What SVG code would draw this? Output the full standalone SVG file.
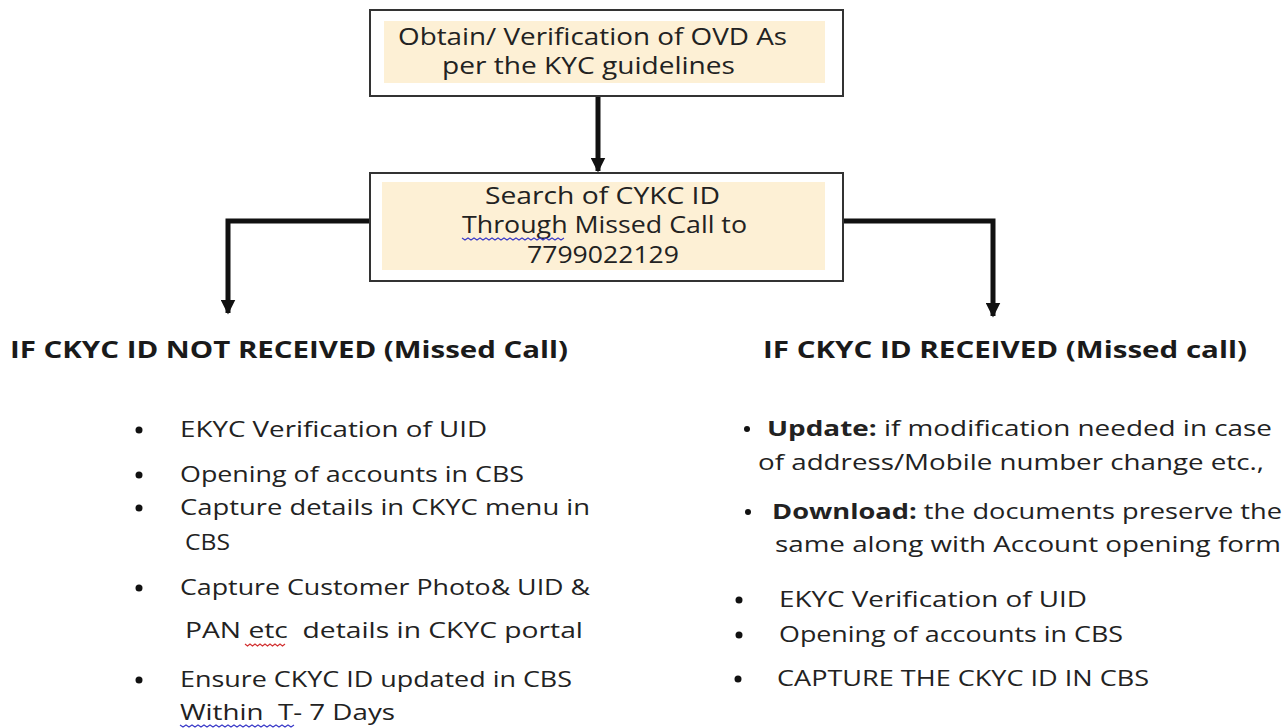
<svg xmlns="http://www.w3.org/2000/svg" width="1287" height="728" viewBox="0 0 1287 728">
  <defs>
    <marker id="arrow" viewBox="0 0 10 10" refX="9" refY="5" markerWidth="3" markerHeight="3" orient="auto" markerUnits="strokeWidth">
      <path d="M0,0 L10,5 L0,10 z" fill="#111"/>
    </marker>
    <style>
      .frame { fill: #ffffff; stroke: #333; stroke-width: 2; }
      .band { fill: #fdf0d5; }
      .box-text { font-family: "Open Sans", "Liberation Sans", sans-serif; font-size: 23px; fill: #222; }
      .head { font-family: "Open Sans", "Liberation Sans", sans-serif; font-size: 23px; font-weight: bold; fill: #1a1a1a; }
      .item { font-family: "Open Sans", "Liberation Sans", sans-serif; font-size: 22px; fill: #222; white-space: pre; }
      .b { font-weight: bold; }
      .dot { fill: #111; }
      .link { fill: none; stroke: #111; stroke-width: 5; marker-end: url(#arrow); }
      .squiggle-blue { fill: none; stroke: #3a3ac8; stroke-width: 1.2; }
      .squiggle-red { fill: none; stroke: #d23030; stroke-width: 1.2; }
    </style>
  </defs>

  <rect width="1287" height="728" fill="#ffffff"/>

  <!-- connectors -->
  <g id="connectors">
    <path class="link" d="M598,97 L598,171"/>
    <path class="link" d="M370,221 L228,221 L228,313"/>
    <path class="link" d="M843,221 L993,221 L993,316"/>
  </g>

  <!-- start step -->
  <g id="node-obtain">
    <rect class="frame" x="370" y="10" width="473" height="86"/>
    <rect class="band" x="384" y="21" width="441" height="62"/>
    <text class="box-text" x="398" y="45" textLength="389" lengthAdjust="spacingAndGlyphs">Obtain/ Verification of OVD As</text>
    <text class="box-text" x="442" y="74" textLength="293" lengthAdjust="spacingAndGlyphs">per the KYC guidelines</text>
  </g>

  <!-- search step -->
  <g id="node-search">
    <rect class="frame" x="370" y="173" width="473" height="108"/>
    <rect class="band" x="382" y="182" width="443" height="88"/>
    <text class="box-text" x="485" y="204" textLength="235" lengthAdjust="spacingAndGlyphs">Search of CYKC ID</text>
    <text class="box-text" x="462" y="233" textLength="285" lengthAdjust="spacingAndGlyphs">Through Missed Call to</text>
    <text class="box-text" x="527" y="263" textLength="152" lengthAdjust="spacingAndGlyphs">7799022129</text>
    <path class="squiggle-blue" d="M462,238 l3,2 l3,-2 l3,2 l3,-2 l3,2 l3,-2 l3,2 l3,-2 l3,2 l3,-2 l3,2 l3,-2 l3,2 l3,-2 l3,2 l3,-2 l3,2 l3,-2 l3,2 l3,-2 l3,2 l3,-2 l3,2 l3,-2 l3,2 l3,-2 l3,2 l3,-2 l3,2 l3,-2 l3,2 l3,-2 l3,2 l3,-2"/>
  </g>

  <!-- branch: id not received -->
  <g id="node-not-received">
    <text class="head" x="10" y="358" textLength="558" lengthAdjust="spacingAndGlyphs">IF CKYC ID NOT RECEIVED (Missed Call)</text>
    <circle class="dot" cx="139" cy="430" r="3.5"/>
    <text class="item" x="180" y="437" textLength="307" lengthAdjust="spacingAndGlyphs">EKYC Verification of UID</text>
    <circle class="dot" cx="139" cy="475" r="3.5"/>
    <text class="item" x="180" y="482" textLength="344" lengthAdjust="spacingAndGlyphs">Opening of accounts in CBS</text>
    <circle class="dot" cx="139" cy="508" r="3.5"/>
    <text class="item" x="180" y="515" textLength="410" lengthAdjust="spacingAndGlyphs">Capture details in CKYC menu in</text>
    <text class="item" x="185" y="550" textLength="45" lengthAdjust="spacingAndGlyphs">CBS</text>
    <circle class="dot" cx="139" cy="588" r="3.5"/>
    <text class="item" x="180" y="595" textLength="410" lengthAdjust="spacingAndGlyphs">Capture Customer Photo&amp; UID &amp;</text>
    <text class="item" x="185" y="638" textLength="398" lengthAdjust="spacingAndGlyphs">PAN etc  details in CKYC portal</text>
    <path class="squiggle-red" d="M245,644 l2.5,2 l2.5,-2 l2.5,2 l2.5,-2 l2.5,2 l2.5,-2 l2.5,2 l2.5,-2 l2.5,2 l2.5,-2 l2.5,2 l2.5,-2 l2.5,2 l2.5,-2 l2.5,2 l2.5,-2"/>
    <circle class="dot" cx="139" cy="680" r="3.5"/>
    <text class="item" x="180" y="687" textLength="392" lengthAdjust="spacingAndGlyphs">Ensure CKYC ID updated in CBS</text>
    <text class="item" x="180" y="720" textLength="215" lengthAdjust="spacingAndGlyphs">Within  T- 7 Days</text>
    <path class="squiggle-blue" d="M180,725 l3,2 l3,-2 l3,2 l3,-2 l3,2 l3,-2 l3,2 l3,-2 l3,2 l3,-2 l3,2 l3,-2 l3,2 l3,-2 l3,2 l3,-2 l3,2 l3,-2 l3,2 l3,-2 l3,2 l3,-2 l3,2 l3,-2 l3,2 l3,-2 l3,2 l3,-2 l3,2 l3,-2 l3,2 l3,-2 l3,2 l3,-2 l3,2 l3,-2 l3,2 l3,-2"/>
  </g>

  <!-- branch: id received -->
  <g id="node-received">
    <text class="head" x="763" y="358" textLength="484" lengthAdjust="spacingAndGlyphs">IF CKYC ID RECEIVED (Missed call)</text>
    <circle class="dot" cx="747" cy="429" r="3"/>
    <text class="item" x="767" y="436" textLength="505" lengthAdjust="spacingAndGlyphs"><tspan class="b">Update:</tspan> if modification needed in case</text>
    <text class="item" x="758" y="470" textLength="506" lengthAdjust="spacingAndGlyphs">of address/Mobile number change etc.,</text>
    <circle class="dot" cx="748" cy="512" r="3"/>
    <text class="item" x="772" y="519" textLength="510" lengthAdjust="spacingAndGlyphs"><tspan class="b">Download:</tspan> the documents preserve the</text>
    <text class="item" x="775" y="552" textLength="506" lengthAdjust="spacingAndGlyphs">same along with Account opening form</text>
    <circle class="dot" cx="739" cy="600" r="3.5"/>
    <text class="item" x="779" y="607" textLength="308" lengthAdjust="spacingAndGlyphs">EKYC Verification of UID</text>
    <circle class="dot" cx="739" cy="635" r="3.5"/>
    <text class="item" x="779" y="642" textLength="344" lengthAdjust="spacingAndGlyphs">Opening of accounts in CBS</text>
    <circle class="dot" cx="738" cy="679" r="3.5"/>
    <text class="item" x="777" y="686" textLength="372" lengthAdjust="spacingAndGlyphs">CAPTURE THE CKYC ID IN CBS</text>
  </g>
</svg>
